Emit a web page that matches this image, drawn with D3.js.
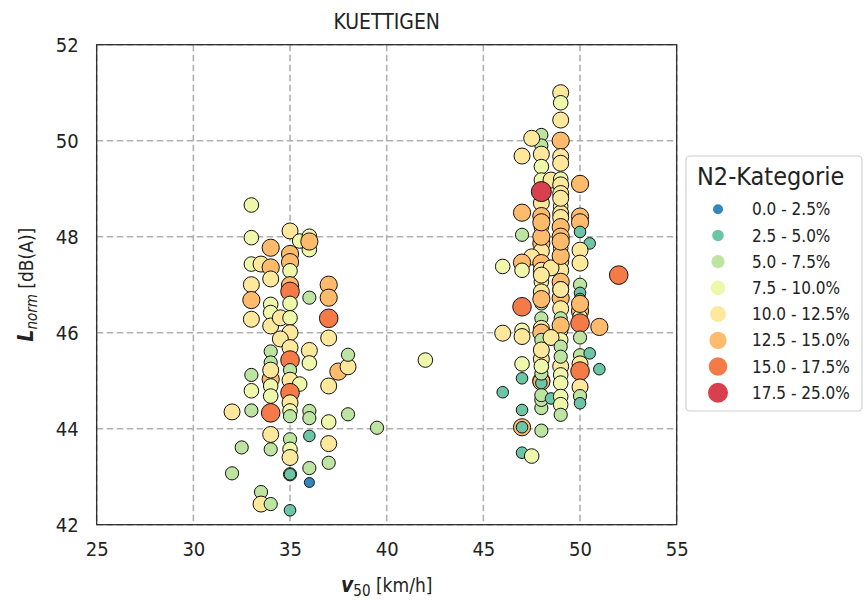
<!DOCTYPE html>
<html>
<head>
<meta charset="utf-8">
<script src="https://cdn.jsdelivr.net/npm/d3@7"></script>
<style>
  body { margin: 0; background: #fff; }
  svg text { font-family: "DejaVu Sans Condensed", "DejaVu Sans", sans-serif; font-stretch: condensed; fill: #222; }
</style>
</head>
<body>
<div id="chart"></div>
<script>
// Scatter: noise level vs. speed, coloured by N2 share

// Data
// ==========================
var v50 = [
  33, 35, 33, 34, 35.5, 36, 36, 36, 35, 35, 35, 33, 33.5, 34, 34, 33, 35, 35, 33, 36,
  37, 37, 37, 37, 34, 34, 35, 33, 34, 34.5, 35, 35, 34.5, 34, 35, 36, 36, 35, 34, 34,
  34, 34, 34, 33, 33, 33, 32, 34, 35, 35, 35.5, 35, 35, 35, 35, 36, 36, 37, 37, 37.5,
  38, 38, 38, 34, 34, 32.5, 32, 35, 35, 35, 35, 35, 36, 37, 37, 36, 36, 33.5, 33.5, 34,
  35, 39.5, 42,
  49, 49, 49, 49, 49, 49, 48, 48, 47.5, 47, 48, 48, 48, 48.5, 49, 49, 49, 50, 48,
  49, 49, 47, 48, 49, 50, 50, 48, 49, 50,
  47, 50.5, 48, 49, 49, 48, 50, 50, 47.5, 47, 46, 47, 48, 48, 49, 49, 49, 48, 48.5,
  50, 50, 50, 48, 49, 48, 47, 49, 50, 50, 50, 51, 49, 48, 48, 49, 47, 46, 47,
  48, 48, 48, 49, 49, 49, 48, 48, 49, 49,
  48, 49, 48.5, 48, 49, 48, 49, 50, 48,
  47, 47, 46, 47, 47, 47, 47, 47.5, 48, 48, 48, 48, 48, 48, 48, 48, 48.5, 49, 49, 49,
  49, 49, 49, 49, 50, 50, 50.5, 50, 50, 50, 50, 50, 51,
  52, 48
];

var lnorm = [
  48.66, 48.12, 47.98, 47.77, 47.91, 48.01, 47.73, 47.9, 47.64, 47.47, 47.29, 47.43, 47.43, 47.36, 47.12, 47.0, 46.99, 46.86, 46.68, 46.73,
  47.0, 46.73, 46.3, 45.89, 46.59, 46.42, 46.61, 46.28, 46.14, 46.31, 46.31, 46.0, 45.87, 45.61, 45.69, 45.63, 45.37, 45.43, 45.38, 45.03,
  45.22, 44.89, 44.68, 45.12, 44.79, 44.38, 44.35, 44.33, 45.22, 45.01, 44.93, 44.75, 44.54, 44.37, 44.26, 44.37, 44.22, 44.14, 44.89, 45.19,
  45.29, 45.54, 44.3, 43.88, 43.57, 43.61, 43.07, 43.78, 43.57, 43.4, 43.05, 43.05, 43.85, 43.69, 43.29, 43.18, 42.88, 42.68, 42.43, 42.43,
  42.3, 44.02, 45.43,
  51.0, 50.79, 50.43, 50.0, 49.67, 49.53, 50.12, 49.9, 50.05, 49.68, 49.72, 49.46, 49.18, 49.18, 49.2, 49.08, 48.9, 49.1, 48.7,
  48.63, 48.49, 48.5, 48.43, 48.4, 48.42, 48.3, 48.2, 48.2, 48.1,
  48.04, 47.86, 47.86, 48.0, 47.76, 47.7, 47.72, 47.45, 47.58, 47.46, 47.38, 47.3, 47.45, 47.3, 47.48, 47.3, 47.06, 47.06, 47.35,
  47.0, 46.83, 46.7, 46.85, 46.72, 46.61, 46.54, 46.5, 46.45, 46.33, 46.2, 46.12, 46.3, 46.3, 46.09, 46.05, 46.05, 45.99, 45.92,
  46.0, 45.85, 45.45, 46.9, 46.15, 45.85, 47.2, 48.0, 47.6, 48.8,
  46.7, 46.9, 45.9, 45.0, 45.3, 44.98, 47.9, 46.6, 48.3,
  45.35, 45.05, 44.76, 44.39, 44.03, 44.03, 43.5, 43.43, 43.96, 44.43, 44.6, 44.7, 44.95, 45.15, 45.3, 45.64, 44.63, 45.71, 45.5, 45.12,
  44.95, 44.67, 44.5, 44.29, 45.9, 45.53, 45.57, 45.35, 45.2, 44.87, 44.68, 44.53, 45.24,
  47.2, 48.94
];

// 0: 0.0-2.5, 1: 2.5-5.0, 2: 5.0-7.5, 3: 7.5-10.0, 4: 10.0-12.5, 5: 12.5-15.0, 6: 15.0-17.5, 7: 17.5-25.0
var n2Class = [
  3, 4, 3, 5, 3, 3, 3, 5, 5, 5, 3, 3, 4, 5, 4, 4, 5, 6, 5, 2,
  5, 5, 6, 4, 3, 3, 3, 4, 4, 4, 3, 4, 4, 2, 4, 4, 3, 6, 2, 5,
  4, 3, 3, 2, 3, 2, 4, 6, 2, 4, 3, 6, 4, 3, 2, 2, 2, 3, 4, 5,
  4, 2, 2, 4, 2, 2, 2, 2, 3, 4, 2, 1, 1, 4, 2, 2, 0, 2, 4, 2,
  1, 2, 3,
  4, 3, 4, 5, 4, 4, 2, 2, 4, 4, 4, 3, 3, 4, 3, 4, 4, 5, 4,
  3, 4, 5, 5, 4, 5, 5, 3, 5, 1,
  2, 1, 5, 5, 3, 4, 4, 4, 4, 5, 3, 3, 5, 4, 4, 4, 5, 3, 4,
  2, 1, 1, 4, 5, 2, 6, 4, 5, 3, 6, 5, 2, 2, 4, 3, 3, 4, 4,
  5, 2, 4, 4, 5, 3, 4, 5, 5, 4,
  5, 4, 4, 5, 4, 5, 5, 5, 5,
  3, 1, 1, 1, 5, 1, 1, 3, 2, 2, 2, 2, 1, 2, 3, 4, 1, 2, 2, 3,
  3, 3, 3, 2, 2, 2, 1, 4, 6, 4, 2, 1, 1,
  6, 7
];

var classLabels = ["0.0 - 2.5%", "2.5 - 5.0%", "5.0 - 7.5%", "7.5 - 10.0%",
                   "10.0 - 12.5%", "12.5 - 15.0%", "15.0 - 17.5%", "17.5 - 25.0%"];
var classColors = ["#3288bd", "#6cc5a4", "#bde4a1", "#eff8aa", "#fee89c", "#fdbb6b", "#f47a48", "#d8404e"];
var classRadius = [5, 5.8, 6.6, 7.3, 8, 8.6, 9.3, 10];

var xTicks = [25, 30, 35, 40, 45, 50, 55];
var yTicks = [42, 44, 46, 48, 50, 52];

// Layout
// ==========================
var width = 867, height = 605;
var mLeft = 96.7, mRight = 676.7, mTop = 44.7, mBottom = 524.7;

var svg = d3.select("#chart").append("svg")
  .attr("width", width)
  .attr("height", height);

var xScale = d3.scaleLinear().domain([25, 55]).range([mLeft, mRight]);
var yScale = d3.scaleLinear().domain([42, 52]).range([mBottom, mTop]);

// Grid
svg.append("g").selectAll("line").data(xTicks).enter().append("line")
  .attr("x1", d => xScale(d)).attr("x2", d => xScale(d))
  .attr("y1", mTop).attr("y2", mBottom)
  .attr("stroke", "#b0b0b0").attr("stroke-width", 1.6).attr("stroke-dasharray", "6.5,3.5");
svg.append("g").selectAll("line").data(yTicks).enter().append("line")
  .attr("y1", d => yScale(d)).attr("y2", d => yScale(d))
  .attr("x1", mLeft).attr("x2", mRight)
  .attr("stroke", "#b0b0b0").attr("stroke-width", 1.6).attr("stroke-dasharray", "6.5,3.5");

// Axes (labels only, frame drawn separately)
var xAxis = d3.axisBottom(xScale).tickValues(xTicks).tickSize(0).tickPadding(17);
var yAxis = d3.axisLeft(yScale).tickValues(yTicks).tickSize(0).tickPadding(18);

var gx = svg.append("g").attr("transform", "translate(0," + mBottom + ")").call(xAxis);
var gy = svg.append("g").attr("transform", "translate(" + mLeft + ",0)").call(yAxis);
[gx, gy].forEach(function(g) {
  g.attr("font-family", null);
  g.select(".domain").remove();
  g.selectAll("text").attr("font-size", 20).attr("fill", "#222");
});

// Points
var idx = d3.range(v50.length);
svg.append("g").selectAll("circle").data(idx).enter().append("circle")
  .attr("cx", i => xScale(v50[i]))
  .attr("cy", i => yScale(lnorm[i]))
  .attr("r", i => classRadius[n2Class[i]])
  .attr("fill", i => classColors[n2Class[i]])
  .attr("stroke", "#111")
  .attr("stroke-width", 1);

// Frame
svg.append("rect")
  .attr("x", mLeft).attr("y", mTop)
  .attr("width", mRight - mLeft).attr("height", mBottom - mTop)
  .attr("fill", "none").attr("stroke", "#222").attr("stroke-width", 1.2);

// Title and axis labels
svg.append("text")
  .attr("x", (mLeft + mRight) / 2).attr("y", 29)
  .attr("text-anchor", "middle").attr("font-size", 21).attr("fill", "#333")
  .text("KUETTIGEN");

var xl = svg.append("text")
  .attr("x", (mLeft + mRight) / 2).attr("y", 592)
  .attr("text-anchor", "middle").attr("font-size", 19);
xl.append("tspan").attr("font-style", "italic").attr("font-weight", "bold").attr("font-size", 21).text("v");
xl.append("tspan").attr("dy", 4).attr("font-size", 15).text("50");
xl.append("tspan").attr("dy", -4).text(" [km/h]");

var yl = svg.append("text")
  .attr("transform", "translate(33," + ((mTop + mBottom) / 2) + ") rotate(-90)")
  .attr("text-anchor", "middle").attr("font-size", 19);
yl.append("tspan").attr("font-style", "italic").attr("font-weight", "bold").attr("font-size", 21).text("L");
yl.append("tspan").attr("dy", 4).attr("font-style", "italic").attr("font-size", 15).text("norm");
yl.append("tspan").attr("dy", -4).text(" [dB(A)]");

// Legend
var lg = svg.append("g");
lg.append("rect")
  .attr("x", 686).attr("y", 156).attr("width", 176).attr("height", 255).attr("rx", 4)
  .attr("fill", "#fff").attr("stroke", "#d0d0d0").attr("stroke-width", 1.2);
lg.append("text")
  .attr("x", 697).attr("y", 185).attr("font-size", 25).attr("fill", "#333")
  .text("N2-Kategorie");
var items = lg.selectAll("g.item").data(classLabels).enter().append("g")
  .attr("transform", (d, i) => "translate(0," + (209.3 + i * 26.2) + ")");
items.append("circle")
  .attr("cx", 718).attr("cy", 0)
  .attr("r", (d, i) => classRadius[i])
  .attr("fill", (d, i) => classColors[i]);
items.append("text")
  .attr("x", 752).attr("y", 6).attr("font-size", 17).attr("fill", "#333")
  .text(d => d);
</script>
</body>
</html>
